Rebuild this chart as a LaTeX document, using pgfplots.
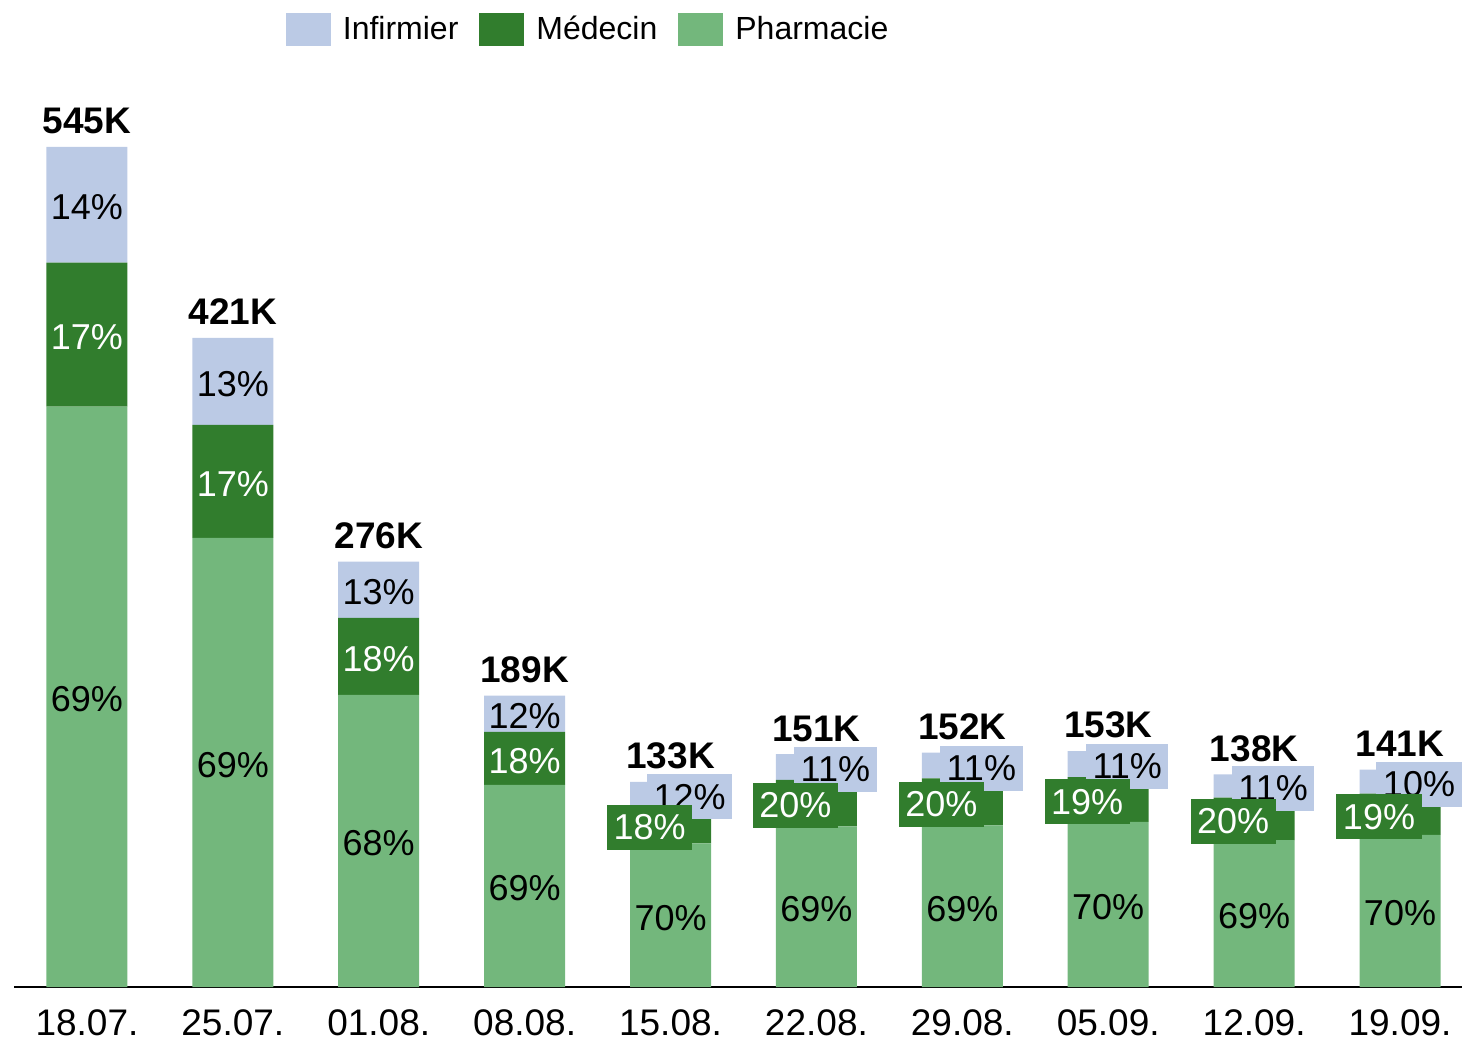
\documentclass[border=0pt]{standalone}
\usepackage{fontspec}
\setmainfont{Liberation Sans}
\usepackage{pgfplots}
\usepackage{pgfplotstable}
\pgfplotsset{compat=1.18}
\definecolor{cinf}{RGB}{187,202,229}
\definecolor{cmed}{RGB}{49,125,45}
\definecolor{cpha}{RGB}{115,183,124}

\pgfplotstableread{
x pha med inf
0 376.4 93.4 75.2
1 291.4 73.3 56.3
2 189.5 50.0 36.5
3 131.1 34.4 23.5
4 93.1 23.9 16.0
5 104.2 30.2 16.6
6 104.9 30.4 16.7
7 107.1 29.1 16.8
8 95.2 27.6 15.2
9 98.7 26.8 15.5
}\datatable

\tikzset{
  pct/.style={font=\fontsize{18}{20}\selectfont, inner xsep=3.25pt, inner ysep=0pt, minimum height=22.5pt, anchor=center, yshift=-1.25pt},
  tot/.style={font=\fontsize{18.5}{20}\selectfont\bfseries, inner sep=0pt, anchor=base, yshift=6.6pt}
}

\begin{document}
\begin{tikzpicture}
\useasboundingbox (-7pt,-27pt) rectangle (724pt,493.5pt);
\begin{axis}[
  at={(0,0)}, anchor=south west,
  scale only axis, width=724pt, height=462.5pt,
  xmin=-0.5, xmax=9.425, ymin=0, ymax=600,
  ybar stacked, bar width=40.5pt,
  axis x line=bottom, axis y line=none,
  axis line style={-, line width=1pt},
  xtick={0,...,9},
  xticklabels={18.07.,25.07.,01.08.,08.08.,15.08.,22.08.,29.08.,05.09.,12.09.,19.09.},
  major tick length=0pt,
  xticklabel style={font=\fontsize{18.5}{20}\selectfont, inner sep=0pt, anchor=north, yshift=-11pt},
  ytick=\empty,
  clip=false,
  reverse legend,
  legend columns=3,
  legend style={at={(0.3958,1.035)}, anchor=center, draw=none, fill=none,
    font=\fontsize{16}{18}\selectfont, inner sep=0pt, nodes={inner sep=0pt},
    /tikz/every odd column/.append style={column sep=6pt},
    /tikz/every even column/.append style={column sep=10.5pt}},
  legend image code/.code={\fill[#1] (0pt,-8.25pt) rectangle (22.5pt,8.25pt);},
]
\addplot[fill=cpha, draw=none] table[x=x,y=pha]{\datatable};
\addlegendentry{Pharmacie}
\addplot[fill=cmed, draw=none] table[x=x,y=med]{\datatable};
\addlegendentry{Médecin}
\addplot[fill=cinf, draw=none] table[x=x,y=inf]{\datatable};
\addlegendentry{Infirmier}

\coordinate (p0) at (axis cs:0,188.2);
\coordinate (p1) at (axis cs:1,145.7);
\coordinate (p2) at (axis cs:2,94.75);
\coordinate (p3) at (axis cs:3,65.55);
\coordinate (p4) at (axis cs:4,46.55);
\coordinate (p5) at (axis cs:5,52.1);
\coordinate (p6) at (axis cs:6,52.45);
\coordinate (p7) at (axis cs:7,53.55);
\coordinate (p8) at (axis cs:8,47.6);
\coordinate (p9) at (axis cs:9,49.35);
\coordinate (i0) at (axis cs:0,507.4);
\coordinate (i1) at (axis cs:1,392.85);
\coordinate (i2) at (axis cs:2,257.75);
\coordinate (i3) at (axis cs:3,177.25);
\coordinate (i4) at (axis cs:4,125);
\coordinate (i5) at (axis cs:5,142.7);
\coordinate (i6) at (axis cs:6,143.65);
\coordinate (i7) at (axis cs:7,144.6);
\coordinate (i8) at (axis cs:8,130.4);
\coordinate (i9) at (axis cs:9,133.25);
\coordinate (m0) at (axis cs:0,423.1);
\coordinate (m1) at (axis cs:1,328.05);
\coordinate (m2) at (axis cs:2,214.5);
\coordinate (m3) at (axis cs:3,148.3);
\coordinate (m4) at (axis cs:4,105.05);
\coordinate (m5) at (axis cs:5,119.3);
\coordinate (m6) at (axis cs:6,120.1);
\coordinate (m7) at (axis cs:7,121.65);
\coordinate (m8) at (axis cs:8,109);
\coordinate (m9) at (axis cs:9,112.1);
\coordinate (t0) at (axis cs:0,545);
\coordinate (t1) at (axis cs:1,421);
\coordinate (t2) at (axis cs:2,276);
\coordinate (t3) at (axis cs:3,189);
\coordinate (t4) at (axis cs:4,133);
\coordinate (t5) at (axis cs:5,151);
\coordinate (t6) at (axis cs:6,152);
\coordinate (t7) at (axis cs:7,153);
\coordinate (t8) at (axis cs:8,138);
\coordinate (t9) at (axis cs:9,141);
\end{axis}
% Pharmacie labels
\node[pct] at (p0) {69\%};
\node[pct] at (p1) {69\%};
\node[pct] at (p2) {68\%};
\node[pct] at (p3) {69\%};
\node[pct] at (p4) {70\%};
\node[pct] at (p5) {69\%};
\node[pct] at (p6) {69\%};
\node[pct] at (p7) {70\%};
\node[pct] at (p8) {69\%};
\node[pct] at (p9) {70\%};
% Infirmier labels
\node[pct] at (i0) {14\%};
\node[pct] at (i1) {13\%};
\node[pct] at (i2) {13\%};
\node[pct] at (i3) {12\%};
\node[pct, fill=cinf, xshift=9.5pt] at (i4) {12\%};
\node[pct, fill=cinf, xshift=9.5pt] at (i5) {11\%};
\node[pct, fill=cinf, xshift=9.5pt] at (i6) {11\%};
\node[pct, fill=cinf, xshift=9.5pt] at (i7) {11\%};
\node[pct, fill=cinf, xshift=9.5pt] at (i8) {11\%};
\node[pct, fill=cinf, xshift=9.5pt] at (i9) {10\%};
% Medecin labels
\node[pct, text=white] at (m0) {17\%};
\node[pct, text=white] at (m1) {17\%};
\node[pct, text=white] at (m2) {18\%};
\node[pct, text=white] at (m3) {18\%};
\node[pct, text=white, fill=cmed, xshift=-10.5pt] at (m4) {18\%};
\node[pct, text=white, fill=cmed, xshift=-10.5pt] at (m5) {20\%};
\node[pct, text=white, fill=cmed, xshift=-10.5pt] at (m6) {20\%};
\node[pct, text=white, fill=cmed, xshift=-10.5pt] at (m7) {19\%};
\node[pct, text=white, fill=cmed, xshift=-10.5pt] at (m8) {20\%};
\node[pct, text=white, fill=cmed, xshift=-10.5pt] at (m9) {19\%};
% Totals
\node[tot] at (t0) {545K};
\node[tot] at (t1) {421K};
\node[tot] at (t2) {276K};
\node[tot] at (t3) {189K};
\node[tot] at (t4) {133K};
\node[tot] at (t5) {151K};
\node[tot] at (t6) {152K};
\node[tot] at (t7) {153K};
\node[tot] at (t8) {138K};
\node[tot] at (t9) {141K};
\end{tikzpicture}
\end{document}
